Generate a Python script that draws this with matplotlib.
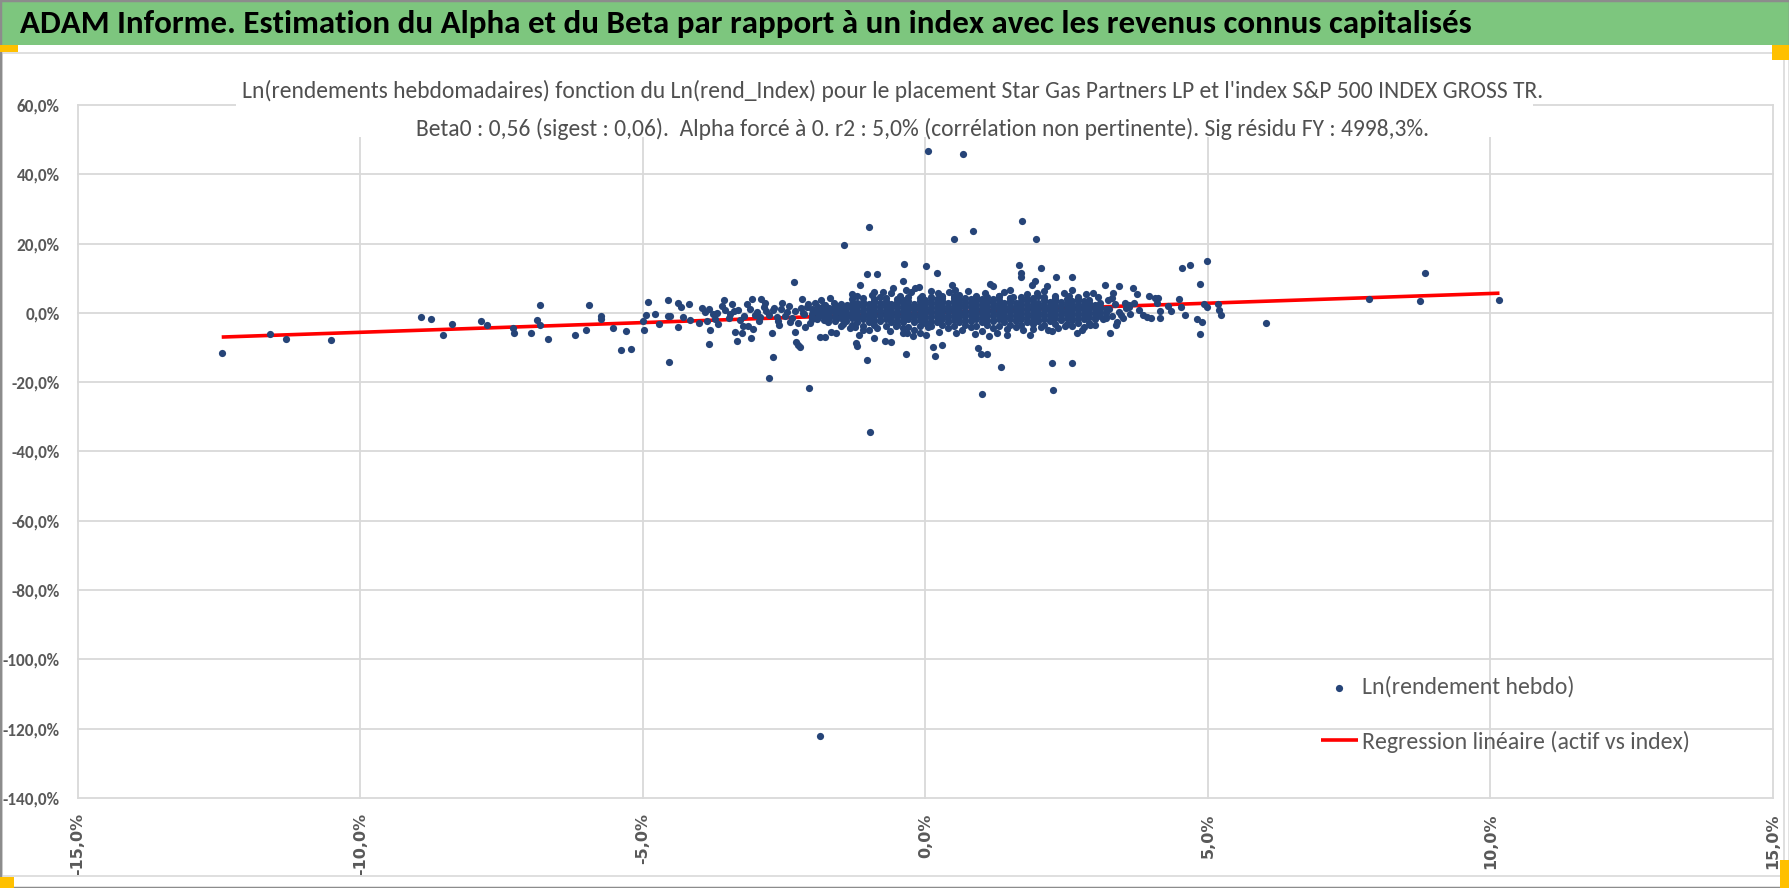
import numpy as np
import matplotlib
matplotlib.use("Agg")
import matplotlib.pyplot as plt
import matplotlib.patches as patches
from matplotlib import font_manager

# Calibri look-alike first, then narrow fallbacks
installed = {f.name for f in font_manager.fontManager.ttflist}
main_font = 'DejaVu Sans'
for cand in ['Carlito', 'Liberation Sans Narrow', 'IBM Plex Sans Condensed',
             'Open Sans Condensed', 'DejaVu Sans']:
    if cand in installed:
        main_font = cand
        break
plt.rcParams['font.family'] = [main_font, 'DejaVu Sans']

W, H, DPI = 1790, 888, 100

header = ("ADAM Informe. Estimation du Alpha et du Beta par rapport à un index "
          "avec les revenus connus capitalisés")
title1 = ("Ln(rendements hebdomadaires) fonction du Ln(rend_Index) pour le placement "
          "Star Gas Partners LP et l'index S&P 500 INDEX GROSS TR.")
title2 = ("Beta0 : 0,56 (sigest : 0,06).  Alpha forcé à 0. r2 : 5,0% "
          "(corrélation non pertinente). Sig résidu FY : 4998,3%.")
label_pts = "Ln(rendement hebdo)"
label_reg = "Regression linéaire (actif vs index)"

beta = 0.56
x_ticks = [-15, -10, -5, 0, 5, 10, 15]
y_ticks = [-140, -120, -100, -80, -60, -40, -20, 0, 20, 40, 60]

# weekly log returns (%), index x vs asset y
wing_x = [-12.45, -11.59, -11.31, -10.52, -8.93, -8.75, -8.53, -8.38, -7.87, -7.75,
          -7.30, -7.28, -6.97, -6.87, -6.81, -6.81, -6.67, -6.19, -6.01, -5.95,
          -5.74, -5.73, -5.52, -5.38, -5.29, -5.21]
wing_y = [-11.5, -6.1, -7.4, -7.8, -1.1, -1.9, -6.5, -3.2, -2.3, -3.6,
          -4.3, -5.7, -5.7, -2.1, 2.4, -3.6, -7.4, -6.5, -4.9, 2.4,
          -1.7, -1.0, -4.4, -10.8, -5.2, -10.3]

left_x = [-4.97, -4.99, -4.95, -4.91, -4.78, -4.72, -4.56, -4.54, -4.55, -4.51,
          -4.38, -4.38, -4.33, -4.28, -4.19, -4.16, -4.01, -3.90, -3.86, -3.82,
          -3.83, -3.81, -3.76, -3.69, -3.66, -3.56, -3.54, -3.48, -3.42, -3.37,
          -3.34, -3.31, -3.28, -3.25, -3.22, -3.15, -3.13, -3.09, -3.07, -3.04,
          -3.01, -2.94, -2.90, -2.84, -2.81, -2.76, -2.72, -2.70, -2.68, -2.63,
          -2.58, -2.53, -2.45, -2.39, -2.32, -2.31, -2.29, -2.25, -2.22, -2.19,
          -2.16, -2.12, -2.10, -2.05, -2.01, -1.95, -1.87, -1.85, -1.77, -1.75,
          -1.69, -1.67, -1.58, -1.54, -1.50, -1.39, -1.33, -1.29, -1.23, -1.20,
          -1.17, -1.16, -1.11, -1.04, -1.03, -0.97, -0.91, -0.90, -0.85, -0.74,
          -0.71, -0.61, -0.57, -0.51, -0.40, -0.39, -0.37, -0.35, -0.34, -0.32,
          -0.21, -0.18, -0.12, -0.09, 0.01, 0.02, 0.13, 0.17, 0.21, 0.23]
left_y = [-4.8, -2.2, -0.6, 3.2, -0.4, -3.2, 3.7, -14.1, -1.0, -1.0,
          2.8, -4.0, 1.8, -1.1, 2.5, -2.0, -2.8, 0.4, -2.3, 1.2,
          -9.0, -4.9, -0.4, -0.1, -3.3, 3.7, 0.7, -1.5, 2.5, -5.5,
          -8.1, 0.9, -2.0, -5.9, -3.8, 2.5, -3.9, -7.3, 3.9, -4.7,
          -0.6, -2.3, 3.9, 2.8, 0.6, -18.7, -5.7, -12.8, 1.3, -1.1,
          -3.5, 2.8, 0.4, -2.5, 8.8, -5.4, -8.3, -9.2, -9.7, 3.9,
          -0.1, -4.1, 1.8, -21.6, -1.5, 2.8, -7.0, 3.8, -7.0, -1.1,
          4.2, -5.4, -5.9, 0.9, -3.9, 2.3, -4.4, 5.4, -8.6, -9.5,
          -6.3, 8.1, -4.9, 11.3, -13.6, 0.4, 5.9, -7.3, 11.3, 5.9,
          -8.0, -8.3, 7.1, -3.9, -5.9, 9.2, 14.1, -12.0, 6.6, -5.7,
          -6.6, 7.1, 7.6, -5.9, 13.4, -6.3, -9.7, -12.4, 11.6, 5.7]

right_x = [0.30, 0.47, 0.53, 0.55, 0.88, 0.94, 0.98, 1.01, 1.10, 1.12,
           1.14, 1.20, 1.27, 1.34, 1.45, 1.49, 1.65, 1.69, 1.70, 1.73,
           1.85, 1.88, 1.94, 1.97, 2.04, 2.16, 2.18, 2.24, 2.25, 2.26,
           2.32, 2.45, 2.47, 2.59, 2.59, 2.59, 2.69, 2.78, 2.92, 2.97,
           3.14, 3.18, 3.24, 3.27, 3.33, 3.38, 3.43, 3.47, 3.53, 3.61,
           3.67, 3.75, 3.92, 3.96, 3.99, 4.06, 4.10, 4.12, 4.15, 4.16,
           4.30, 4.34, 4.49, 4.52, 4.55, 4.59, 4.69, 4.81, 4.86, 4.86,
           4.89, 4.93, 4.98, 4.99, 5.18, 5.20, 5.23,
           6.02, 7.86, 8.75, 8.85, 10.16]
right_y = [-9.4, 8.1, 6.6, -5.9, -6.1, -10.2, -11.8, -23.4, -12.0, -6.8,
           8.4, 7.8, -5.7, -15.7, -6.3, 6.6, 13.8, 11.4, 10.5, -4.9,
           -6.3, 8.1, 9.2, 5.7, 13.0, 7.8, -4.9, -14.5, -5.2, -22.2,
           10.5, 5.7, -3.9, 10.5, 6.6, -14.5, -5.7, -4.9, -3.5, 5.7,
           -1.8, 8.1, 3.8, -5.7, 5.7, -3.5, 7.9, -0.6, 2.8, 1.8,
           7.1, 5.4, -1.1, 5.0, -1.5, 4.2, 2.8, 4.4, 0.6, -1.5,
           2.0, 0.6, 4.0, 1.6, 12.9, -0.6, 13.8, -1.8, 8.3, -6.1,
           -2.7, 2.6, 15.0, 1.8, 2.6, 0.9, -0.6,
           -3.0, 4.0, 3.3, 11.5, 3.6]

outlier_x = [0.04, 0.67, -1.43, -0.99, 0.50, 0.85, 1.71, 1.95, -0.97, -1.86]
outlier_y = [46.7, 45.9, 19.7, 24.8, 21.3, 23.6, 26.4, 21.4, -34.3, -122.2]

band_x = [-3.95, -3.72, -3.60, -3.45, -3.38, -3.20, -3.10, -2.98, -2.92, -2.86,
          -2.76, -2.70, -2.60, -2.55, -2.48, -2.42, -2.36, -2.30, -2.26, -2.20,
          -2.14, -2.08, -2.04, -1.98, -1.92, -1.88, -1.82, -1.78, -1.72, -1.66,
          -1.62, -1.56, -1.52, -1.46, -1.42,
          3.25, 3.30, 3.35, 3.42, 3.50, 3.55, 3.62, 3.70, 3.78, 3.85, 3.30, 3.40, 3.60]
band_y = [1.5, -1.8, 1.9, -0.2, 0.5, -1.0, 1.2, 0.3, -1.2, 1.8,
          -0.5, 0.8, -2.2, 1.0, -0.8, 2.0, -1.6, 0.6, -2.8, 1.5,
          -0.4, 2.5, -3.0, 0.2, -1.9, 1.2, -0.6, 2.2, -2.6, 0.8,
          3.0, -1.4, 1.9, -3.2, 0.3,
          1.2, -0.8, 2.6, 0.4, -1.6, 1.5, -0.2, 3.0, 0.9, -0.5, 4.2, -2.5, 2.2]

fringe_x = [-1.20, -0.95, -0.80, -0.60, -0.45, -0.25, -0.05, 0.10, 0.30, 0.42,
            0.60, 0.75, 0.90, 1.05, 1.30, 1.40, 1.55, 1.80, 2.00, 2.10,
            2.30, 2.55, 2.70, 2.85, 3.05,
            -1.25, -1.00, -0.85, -0.62, -0.40, -0.20, 0.05, 0.25, 0.40, 0.65,
            0.80, 1.00, 1.20, 1.45, 1.60, 1.90, 2.05, 2.35, 2.60, 2.80, 3.00]
fringe_y = [4.9, 5.3, 4.6, 5.6, 4.8, 6.0, 5.0, 6.4, 4.9, 5.9,
            5.2, 6.3, 4.8, 5.7, 5.0, 6.1, 4.7, 5.5, 4.9, 6.4,
            4.8, 5.0, 4.6, 5.4, 4.5,
            -4.1, -5.0, -4.3, -5.3, -4.4, -4.9, -4.2, -5.4, -4.5, -4.8,
            -4.1, -5.1, -4.3, -4.7, -4.0, -4.6, -4.1, -4.4, -3.8, -4.2, -3.6]

# upper and lower rims of the dense cloud
edge_x = [-1.3, -1.1, -0.9, -0.7, -0.5, -0.3, -0.1, 0.1, 0.3, 0.5, 0.7,
          0.9, 1.1, 1.3, 1.5, 1.7, 1.9, 2.1, 2.3, 2.5, 2.7, 2.9]
edge_top = [3.9, 4.3, 4.0, 4.4, 4.1, 4.5, 4.2, 4.6, 4.3, 4.8, 4.4,
            4.7, 4.5, 4.9, 4.4, 4.6, 4.3, 4.5, 4.2, 4.1, 3.9, 3.8]
edge_bot = [-3.4, -3.7, -3.5, -3.9, -3.6, -4.0, -3.7, -3.8, -3.5, -3.9, -3.6,
            -3.8, -3.4, -3.7, -3.5, -3.6, -3.3, -3.5, -3.1, -3.2, -2.9, -2.8]

# the solid core of the cloud, one column of points per index value
core_x = [-2.0, -1.9, -1.8, -1.7, -1.6, -1.5, -1.4, -1.3, -1.2, -1.1,
          -1.0, -0.9, -0.8, -0.7, -0.6, -0.5, -0.4, -0.3, -0.2, -0.1,
          0.0, 0.1, 0.2, 0.3, 0.4, 0.5, 0.6, 0.7, 0.8, 0.9,
          1.0, 1.1, 1.2, 1.3, 1.4, 1.5, 1.6, 1.7, 1.8, 1.9,
          2.0, 2.1, 2.2, 2.3, 2.4, 2.5, 2.6, 2.7, 2.8, 2.9,
          3.0, 3.1, 3.2]
core_y = [
    [-1.8, -0.4, 1.0], [-1.2, 0.3, 1.7], [-2.0, -0.6, 0.8, 2.2], [-1.4, 0.0, 1.4],
    [-2.2, -0.8, 0.6, 2.0], [-1.6, -0.2, 1.2, 2.6], [-2.2, -0.9, 0.4, 1.8],
    [-1.6, -0.2, 1.1, 2.5], [-2.5, -1.1, 0.3, 1.6, 2.9], [-1.9, -0.5, 0.9, 2.2, 3.2],
    [-2.6, -1.2, 0.1, 1.4, 2.7], [-2.0, -0.6, 0.7, 2.0, 3.3], [-2.4, -1.0, 0.3, 1.6, 2.9],
    [-1.8, -0.4, 0.9, 2.2, 3.4], [-2.7, -1.3, 0.0, 1.3, 2.6], [-2.1, -0.7, 0.6, 1.9, 3.2],
    [-2.5, -1.1, 0.2, 1.5, 2.8, 3.8], [-1.9, -0.5, 0.8, 2.1, 3.3], [-2.6, -1.2, 0.1, 1.4, 2.7],
    [-2.0, -0.6, 0.7, 2.0, 3.4], [-2.8, -1.4, -0.1, 1.2, 2.5, 3.7], [-2.2, -0.8, 0.5, 1.8, 3.1],
    [-2.6, -1.2, 0.1, 1.4, 2.7, 3.9], [-1.9, -0.5, 0.8, 2.1, 3.4], [-2.5, -1.1, 0.2, 1.5, 2.8],
    [-2.0, -0.6, 0.7, 2.0, 3.3, 4.2], [-2.7, -1.3, 0.0, 1.3, 2.6, 3.8], [-2.1, -0.7, 0.6, 1.9, 3.2],
    [-2.4, -1.0, 0.3, 1.6, 2.9, 4.0], [-1.8, -0.4, 0.9, 2.2, 3.5], [-2.6, -1.2, 0.1, 1.4, 2.7, 3.9],
    [-2.0, -0.6, 0.7, 2.0, 3.3], [-2.3, -0.9, 0.4, 1.7, 3.0, 4.1], [-1.7, -0.3, 1.0, 2.3, 3.6],
    [-2.5, -1.1, 0.2, 1.5, 2.8], [-1.9, -0.5, 0.8, 2.1, 3.4, 4.3], [-2.4, -1.0, 0.3, 1.6, 2.9],
    [-1.8, -0.4, 0.9, 2.2, 3.5], [-2.6, -1.2, 0.1, 1.4, 2.7, 3.9], [-2.0, -0.6, 0.7, 2.0, 3.3],
    [-2.3, -0.9, 0.4, 1.7, 3.0], [-1.7, -0.3, 1.0, 2.3, 3.6], [-2.2, -0.8, 0.5, 1.8, 3.1],
    [-1.6, -0.2, 1.1, 2.4, 3.7], [-2.1, -0.7, 0.6, 1.9, 3.2], [-1.5, -0.1, 1.2, 2.5],
    [-2.0, -0.6, 0.7, 2.0, 3.3], [-1.4, 0.0, 1.3, 2.6], [-1.9, -0.5, 0.8, 2.1, 3.4],
    [-1.2, 0.2, 1.5, 2.8], [-1.7, -0.3, 1.0, 2.3], [-1.0, 0.4, 1.7, 3.0], [-1.5, -0.1, 1.2],
]

pts_x = wing_x + left_x + right_x + outlier_x + band_x + fringe_x + edge_x + edge_x
pts_y = wing_y + left_y + right_y + outlier_y + band_y + fringe_y + edge_top + edge_bot
for cx, ys in zip(core_x, core_y):
    pts_x += [cx] * len(ys)
    pts_y += ys
pts_x = np.array(pts_x)
pts_y = np.array(pts_y)


def fx(px):
    return px / W


def fy(py):
    return 1 - py / H


fig = plt.figure(figsize=(W / DPI, H / DPI), dpi=DPI)
rend = fig.canvas.get_renderer()


def text_width(s, size, **kw):
    t = fig.text(0, 0, s, fontsize=size, **kw)
    w = t.get_window_extent(renderer=rend).width
    t.remove()
    return w


def fit_size(s, target, **kw):
    return 20 * target / text_width(s, 20, **kw)


# sheet decorations: outer frame, chart border, green banner, selection handles
fig.add_artist(patches.Rectangle((fx(2), fy(876)), fx(1782), fy(53) - fy(876),
                                 transform=fig.transFigure, fill=False,
                                 edgecolor='#D9D9D9', lw=1.2, zorder=1))
fig.add_artist(patches.Rectangle((0, fy(45)), 1, fy(2) - fy(45), transform=fig.transFigure,
                                 facecolor='#7DC67E', edgecolor='none', zorder=1))
fig.add_artist(patches.Rectangle((0, 0), 1, 1, transform=fig.transFigure, fill=False,
                                 edgecolor='#8C8C8C', lw=2.5, zorder=6))
for (hx, hy, hw, hh) in [(0, 45, 18, 7), (1772, 45, 18, 15), (0, 877, 14, 11), (1780, 860, 10, 28)]:
    fig.add_artist(patches.Rectangle((fx(hx), fy(hy + hh)), fx(hw), hh / H,
                                     transform=fig.transFigure, facecolor='#FFC000',
                                     edgecolor='none', zorder=7))

ax = fig.add_axes([fx(77.6), fy(798), fx(1773) - fx(77.6), fy(105) - fy(798)])
ln, = ax.plot([pts_x.min(), pts_x.max()], [beta * pts_x.min(), beta * pts_x.max()],
              color='#FF0000', lw=2.6, zorder=2, solid_capstyle='butt')
sc = ax.scatter(pts_x, pts_y, s=27, color='#264478', linewidths=0, zorder=3)

ax.set_xlim(-15, 15)
ax.set_ylim(-140, 60)
pct = lambda v: f"{v:.1f}%".replace('.', ',')
ax.set_xticks(x_ticks)
ax.set_xticklabels([pct(v) for v in x_ticks], rotation=90, fontfamily='DejaVu Sans',
                   fontweight='bold', fontsize=11.5, color='#595959')
ytick_fs = fit_size(pct(-140), 57, fontweight='bold')
ax.set_yticks(y_ticks)
ax.set_yticklabels([pct(v) for v in y_ticks], fontweight='bold', fontsize=ytick_fs,
                   color='#595959')
ax.tick_params(length=0)
ax.tick_params(axis='y', pad=13)
ax.tick_params(axis='x', pad=11)
ax.grid(True, color='#D9D9D9', lw=1.3)
ax.set_axisbelow(True)
for gl in ax.get_xgridlines() + ax.get_ygridlines():
    gl.set_clip_on(False)
for s in ax.spines.values():
    s.set_visible(False)

# white box behind the chart title hides the grid
fig.add_artist(patches.Rectangle((fx(236), fy(137)), fx(1533) - fx(236), fy(56) - fy(137),
                                 transform=fig.transFigure, facecolor='white',
                                 edgecolor='none', zorder=2))

fig.text(fx(20), fy(24), header, ha='left', va='center',
         fontsize=fit_size(header, 1453, fontweight='bold'),
         fontweight='bold', color='black', zorder=5)
title_fs = fit_size(title1, 1300)
fig.text(fx(893), fy(91), title1, ha='center', va='center', fontsize=title_fs,
         color='#505050', zorder=5)
fig.text(fx(923), fy(129), title2, ha='center', va='center', fontsize=title_fs,
         color='#505050', zorder=5)

leg_fs = fit_size(label_reg, 328)
fs_px = leg_fs * DPI / 72
leg = ax.legend([sc, ln], [label_pts, label_reg], loc='upper left',
                bbox_to_anchor=(fx(1321), fy(692 - 0.65 * fs_px)),
                bbox_transform=fig.transFigure, frameon=False, fontsize=leg_fs,
                handlelength=37 / fs_px, handletextpad=4 / fs_px,
                labelspacing=(61 - 1.2 * fs_px) / fs_px, borderpad=0,
                borderaxespad=0, scatterpoints=1, labelcolor='#595959')

fig.savefig('out.png', dpi=DPI)
